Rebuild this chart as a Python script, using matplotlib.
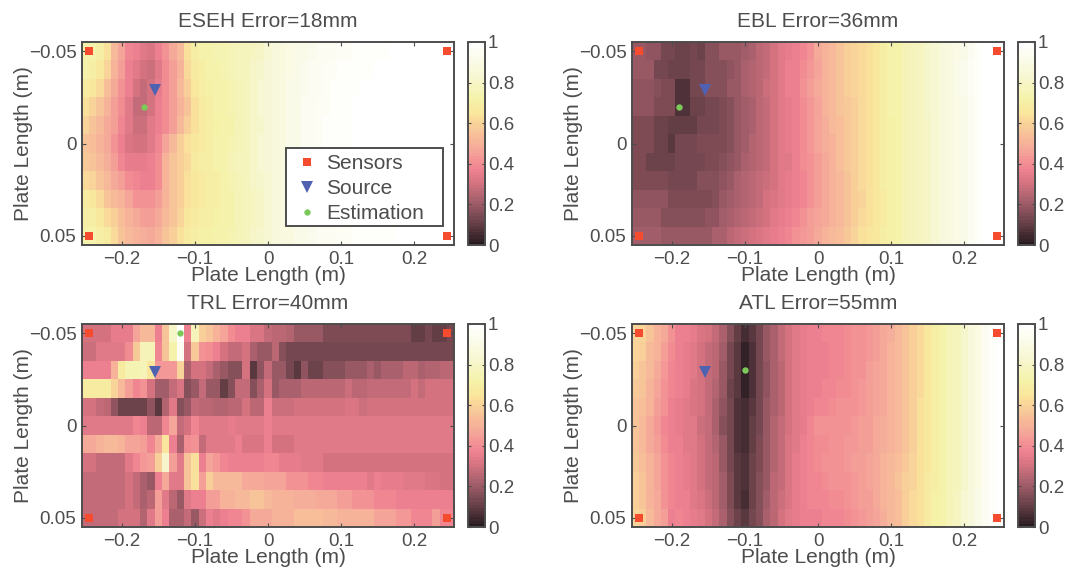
import numpy as np
import matplotlib
matplotlib.use('Agg')
import matplotlib.pyplot as plt
from matplotlib.colors import LinearSegmentedColormap
from matplotlib.patches import Rectangle

plt.rcParams['font.family'] = ['Liberation Sans', 'DejaVu Sans']
plt.rcParams['axes.unicode_minus'] = True

# grid of the error maps (cell centres), values below are read in percent
x_cells = [-0.25, -0.24, -0.23, -0.22, -0.21, -0.20, -0.19, -0.18, -0.17, -0.16,
           -0.15, -0.14, -0.13, -0.12, -0.11, -0.10, -0.09, -0.08, -0.07, -0.06,
           -0.05, -0.04, -0.03, -0.02, -0.01, 0.00, 0.01, 0.02, 0.03, 0.04,
           0.05, 0.06, 0.07, 0.08, 0.09, 0.10, 0.11, 0.12, 0.13, 0.14,
           0.15, 0.16, 0.17, 0.18, 0.19, 0.20, 0.21, 0.22, 0.23, 0.24, 0.25]
y_cells = [-0.05, -0.04, -0.03, -0.02, -0.01, 0.00, 0.01, 0.02, 0.03, 0.04, 0.05]

eseh = [
    [72, 72, 70, 64, 52, 46, 38, 36, 33, 32, 36, 42, 47, 52, 64, 70, 72, 73, 74, 74, 75, 77, 78, 79, 81, 84, 86, 88, 90, 91, 92, 93, 94, 95, 95, 96, 96, 97, 97, 98, 98, 98, 99, 99, 99, 99, 99, 99, 99, 99, 99],
    [72, 70, 66, 60, 50, 45, 36, 33, 30, 29, 33, 40, 45, 50, 62, 68, 70, 72, 73, 74, 75, 77, 78, 80, 82, 85, 87, 89, 90, 92, 93, 94, 95, 96, 96, 97, 97, 98, 98, 98, 99, 99, 99, 99, 100, 100, 100, 100, 100, 100, 100],
    [68, 66, 62, 54, 48, 42, 36, 30, 28, 30, 35, 40, 45, 52, 58, 66, 69, 71, 72, 73, 74, 76, 78, 81, 83, 85, 87, 89, 91, 92, 93, 94, 95, 96, 97, 97, 98, 98, 99, 99, 99, 99, 100, 100, 100, 100, 100, 100, 100, 100, 100],
    [64, 60, 56, 50, 45, 40, 34, 28, 28, 30, 36, 40, 44, 50, 56, 64, 68, 70, 72, 73, 74, 76, 78, 80, 83, 85, 87, 89, 91, 92, 94, 95, 96, 96, 97, 98, 98, 99, 99, 99, 100, 100, 100, 100, 100, 100, 100, 100, 100, 100, 100],
    [60, 56, 52, 48, 44, 38, 33, 29, 29, 33, 36, 40, 45, 52, 58, 64, 68, 70, 71, 72, 73, 75, 77, 80, 82, 85, 87, 89, 91, 92, 94, 95, 96, 97, 97, 98, 98, 99, 99, 99, 100, 100, 100, 100, 100, 100, 100, 100, 100, 100, 100],
    [56, 54, 50, 48, 42, 36, 32, 31, 31, 33, 38, 46, 52, 58, 64, 66, 68, 70, 72, 73, 74, 76, 78, 80, 83, 85, 87, 89, 91, 92, 94, 95, 96, 97, 97, 98, 98, 99, 99, 99, 99, 100, 100, 100, 100, 100, 100, 100, 100, 100, 100],
    [57, 55, 52, 49, 44, 38, 35, 35, 35, 36, 40, 50, 55, 58, 62, 68, 69, 70, 72, 73, 75, 77, 78, 80, 83, 85, 87, 89, 91, 92, 93, 94, 95, 96, 97, 97, 98, 98, 99, 99, 99, 99, 99, 99, 100, 100, 100, 100, 100, 100, 100],
    [62, 60, 56, 52, 48, 44, 40, 38, 36, 36, 40, 50, 55, 58, 64, 66, 68, 69, 70, 72, 74, 76, 78, 80, 82, 84, 86, 88, 90, 92, 93, 94, 95, 96, 96, 97, 97, 98, 98, 99, 99, 99, 99, 99, 99, 99, 100, 100, 100, 100, 100],
    [68, 66, 62, 56, 52, 50, 46, 42, 41, 41, 44, 50, 55, 58, 64, 67, 68, 69, 70, 72, 73, 75, 77, 79, 81, 84, 86, 88, 90, 91, 93, 94, 94, 95, 96, 96, 97, 97, 98, 98, 99, 99, 99, 99, 99, 99, 99, 99, 99, 100, 100],
    [70, 70, 66, 62, 58, 54, 50, 47, 45, 45, 47, 52, 56, 60, 66, 68, 69, 70, 71, 72, 73, 75, 77, 79, 81, 84, 86, 88, 89, 91, 92, 93, 94, 95, 95, 96, 96, 97, 97, 98, 98, 98, 99, 99, 99, 99, 99, 99, 99, 99, 99],
    [72, 72, 70, 68, 62, 56, 52, 50, 49, 48, 50, 55, 58, 64, 68, 70, 71, 71, 72, 73, 74, 76, 78, 80, 82, 84, 86, 88, 89, 91, 92, 93, 94, 94, 95, 96, 96, 97, 97, 97, 98, 98, 98, 99, 99, 99, 99, 99, 99, 99, 99],
]

ebl = [
    [20, 20, 18, 18, 14, 14, 11, 11, 14, 12, 17, 17, 19, 19, 20, 21, 23, 25, 27, 30, 33, 35, 37, 38, 42, 47, 50, 53, 55, 58, 60, 62, 64, 67, 70, 72, 73, 75, 77, 79, 82, 84, 86, 88, 90, 92, 95, 97, 99, 100, 100],
    [19, 19, 19, 13, 13, 11, 11, 11, 13, 13, 17, 16, 16, 18, 20, 22, 24, 26, 28, 31, 34, 36, 37, 40, 43, 46, 50, 53, 56, 58, 60, 62, 64, 67, 70, 72, 73, 75, 77, 79, 82, 84, 86, 88, 91, 93, 96, 98, 100, 100, 100],
    [18, 18, 18, 17, 15, 15, 7, 7, 13, 13, 17, 17, 17, 19, 20, 22, 24, 26, 29, 31, 34, 36, 37, 41, 44, 47, 50, 53, 55, 58, 60, 62, 64, 66, 70, 72, 73, 75, 77, 79, 82, 84, 86, 88, 91, 93, 96, 98, 100, 100, 100],
    [18, 18, 18, 15, 15, 15, 7, 7, 11, 11, 14, 14, 15, 17, 19, 21, 23, 26, 28, 31, 34, 35, 37, 40, 43, 46, 50, 52, 55, 57, 59, 62, 64, 66, 69, 72, 73, 75, 77, 79, 82, 84, 86, 88, 90, 92, 95, 97, 100, 100, 100],
    [15, 15, 15, 12, 12, 10, 10, 10, 10, 14, 14, 14, 15, 17, 19, 21, 23, 26, 27, 30, 33, 35, 37, 40, 43, 46, 49, 52, 54, 57, 59, 62, 64, 66, 69, 71, 73, 75, 77, 79, 81, 84, 86, 88, 90, 92, 94, 97, 99, 100, 100],
    [15, 15, 15, 12, 12, 9, 13, 13, 13, 15, 15, 15, 15, 17, 19, 21, 24, 26, 27, 30, 33, 35, 37, 40, 43, 46, 49, 51, 54, 57, 59, 62, 64, 66, 69, 71, 73, 75, 77, 79, 81, 84, 86, 88, 90, 92, 94, 97, 99, 100, 100],
    [15, 15, 11, 11, 11, 11, 14, 14, 14, 14, 15, 15, 16, 18, 20, 22, 24, 26, 28, 30, 33, 34, 36, 40, 42, 45, 48, 51, 54, 57, 59, 62, 64, 66, 69, 71, 73, 75, 77, 79, 81, 84, 86, 88, 90, 92, 94, 97, 99, 100, 100],
    [15, 15, 15, 15, 15, 14, 14, 14, 14, 16, 16, 16, 18, 20, 22, 24, 26, 27, 29, 31, 33, 35, 36, 39, 42, 45, 48, 50, 53, 56, 58, 61, 63, 66, 69, 71, 73, 75, 77, 79, 81, 84, 86, 88, 90, 92, 94, 97, 99, 100, 100],
    [18, 18, 18, 18, 18, 15, 15, 15, 15, 15, 15, 17, 19, 21, 22, 24, 26, 28, 30, 32, 34, 35, 37, 39, 42, 45, 47, 50, 52, 55, 58, 60, 63, 66, 68, 71, 73, 75, 77, 79, 81, 83, 86, 88, 90, 92, 94, 97, 99, 100, 100],
    [19, 19, 19, 19, 17, 17, 17, 17, 17, 17, 18, 18, 21, 22, 24, 26, 28, 29, 31, 33, 35, 36, 38, 41, 44, 46, 48, 51, 53, 55, 58, 61, 63, 66, 68, 71, 73, 75, 77, 79, 81, 83, 86, 88, 90, 92, 94, 97, 99, 100, 100],
    [21, 21, 21, 21, 20, 20, 20, 20, 20, 20, 20, 22, 23, 25, 27, 29, 31, 32, 34, 35, 37, 39, 41, 43, 45, 47, 50, 52, 54, 57, 60, 63, 65, 67, 69, 71, 73, 75, 77, 79, 81, 84, 86, 88, 90, 92, 94, 97, 99, 100, 100],
]

trl = [
    [31, 31, 31, 31, 35, 35, 35, 46, 52, 52, 37, 55, 80, 100, 37, 76, 58, 56, 50, 46, 40, 37, 37, 32, 32, 28, 25, 25, 24, 19, 19, 19, 19, 15, 15, 15, 15, 15, 15, 15, 15, 15, 15, 15, 15, 10, 10, 14, 10, 10, 14],
    [29, 29, 33, 33, 33, 33, 40, 57, 75, 75, 38, 55, 72, 95, 30, 57, 42, 40, 36, 30, 28, 28, 30, 22, 20, 20, 25, 16, 13, 13, 13, 13, 13, 13, 13, 13, 13, 13, 13, 13, 13, 13, 13, 13, 13, 13, 13, 13, 13, 13, 13],
    [36, 36, 36, 36, 50, 68, 74, 74, 75, 65, 43, 43, 43, 60, 22, 31, 31, 27, 22, 19, 17, 17, 30, 8, 18, 28, 20, 20, 13, 8, 18, 12, 12, 16, 16, 16, 20, 20, 20, 23, 19, 22, 22, 22, 25, 25, 22, 24, 24, 26, 26],
    [68, 68, 68, 68, 60, 53, 44, 38, 42, 31, 21, 21, 27, 32, 17, 20, 27, 19, 19, 10, 17, 28, 28, 17, 22, 30, 19, 22, 22, 22, 25, 25, 25, 26, 26, 26, 29, 26, 26, 28, 28, 28, 28, 28, 28, 30, 28, 30, 30, 30, 30],
    [31, 31, 28, 25, 18, 12, 12, 12, 12, 18, 8, 24, 33, 17, 20, 27, 25, 25, 24, 24, 26, 26, 31, 26, 26, 36, 29, 29, 29, 30, 30, 30, 31, 30, 30, 30, 32, 32, 29, 31, 31, 31, 31, 31, 31, 31, 31, 31, 31, 31, 31],
    [33, 33, 33, 33, 33, 33, 33, 39, 36, 25, 25, 39, 46, 27, 31, 38, 33, 33, 33, 33, 35, 33, 33, 33, 33, 37, 33, 33, 33, 33, 33, 33, 33, 33, 33, 33, 33, 33, 33, 33, 33, 33, 33, 33, 33, 33, 33, 33, 33, 33, 33],
    [47, 47, 50, 52, 52, 50, 46, 46, 44, 38, 47, 65, 37, 23, 40, 42, 28, 34, 33, 33, 33, 37, 32, 32, 32, 37, 30, 30, 30, 33, 33, 33, 33, 33, 33, 33, 33, 33, 33, 33, 33, 33, 33, 33, 33, 33, 33, 33, 33, 33, 33],
    [30, 30, 27, 27, 27, 27, 33, 38, 43, 44, 58, 82, 45, 34, 55, 63, 37, 46, 43, 39, 37, 37, 37, 37, 37, 38, 38, 35, 35, 35, 34, 34, 34, 31, 31, 31, 31, 31, 31, 31, 31, 31, 31, 31, 31, 31, 31, 31, 31, 31, 31],
    [27, 27, 27, 27, 27, 27, 30, 27, 22, 19, 36, 48, 33, 33, 55, 63, 45, 58, 52, 52, 52, 52, 47, 47, 47, 46, 46, 46, 42, 42, 42, 39, 39, 37, 37, 37, 37, 37, 37, 34, 37, 35, 35, 35, 34, 34, 34, 32, 32, 30, 30],
    [28, 28, 28, 28, 28, 28, 30, 28, 23, 25, 44, 34, 25, 20, 34, 37, 37, 44, 44, 50, 50, 53, 53, 55, 55, 53, 50, 50, 50, 49, 49, 49, 47, 47, 47, 44, 44, 42, 42, 42, 38, 38, 38, 36, 36, 37, 37, 37, 37, 37, 37],
    [28, 28, 28, 28, 28, 30, 30, 30, 24, 33, 44, 37, 22, 22, 28, 20, 29, 37, 33, 37, 38, 38, 42, 47, 47, 47, 50, 50, 50, 54, 54, 54, 54, 53, 53, 50, 50, 50, 50, 50, 46, 46, 46, 43, 43, 38, 38, 38, 45, 38, 38],
]

atl = [
    [60, 60, 55, 50, 47, 42, 37, 36, 35, 32, 30, 27, 22, 16, 10, 6, 8, 14, 19, 23, 27, 31, 33, 35, 37, 37, 38, 38, 39, 40, 41, 42, 43, 45, 47, 49, 52, 55, 58, 62, 66, 70, 72, 75, 78, 82, 86, 90, 94, 98, 99],
    [60, 58, 53, 50, 45, 40, 36, 35, 34, 31, 28, 25, 21, 14, 8, 2, 7, 13, 19, 23, 27, 31, 33, 35, 36, 37, 37, 38, 39, 40, 41, 42, 43, 45, 48, 50, 52, 55, 59, 62, 66, 70, 72, 75, 78, 82, 86, 90, 94, 98, 100],
    [59, 56, 52, 48, 43, 39, 36, 35, 33, 30, 27, 25, 20, 14, 8, 2, 7, 13, 18, 23, 26, 30, 33, 35, 36, 37, 37, 38, 39, 40, 41, 42, 44, 46, 48, 50, 52, 55, 59, 62, 66, 70, 72, 75, 78, 82, 86, 90, 94, 98, 100],
    [57, 55, 50, 46, 42, 38, 36, 35, 32, 30, 27, 24, 19, 12, 8, 2, 7, 13, 18, 22, 26, 30, 33, 35, 36, 37, 38, 39, 40, 40, 41, 43, 44, 46, 48, 50, 52, 56, 59, 62, 66, 70, 72, 75, 78, 82, 86, 90, 94, 98, 100],
    [56, 54, 50, 45, 41, 37, 35, 34, 32, 30, 27, 23, 18, 13, 7, 5, 8, 14, 19, 23, 26, 30, 33, 35, 37, 38, 39, 40, 41, 41, 42, 43, 44, 46, 48, 50, 53, 56, 59, 63, 67, 70, 72, 75, 78, 82, 86, 90, 94, 98, 100],
    [55, 53, 48, 43, 38, 37, 35, 34, 33, 29, 27, 22, 17, 13, 7, 5, 10, 14, 20, 24, 27, 31, 33, 35, 38, 41, 41, 41, 41, 42, 43, 44, 45, 47, 49, 51, 53, 56, 59, 63, 67, 70, 72, 75, 78, 82, 86, 90, 94, 98, 100],
    [56, 53, 48, 45, 40, 37, 36, 34, 33, 30, 27, 24, 19, 13, 7, 5, 10, 15, 20, 24, 28, 32, 34, 36, 38, 40, 40, 41, 42, 43, 43, 44, 45, 47, 49, 51, 53, 56, 59, 63, 67, 70, 72, 75, 78, 82, 86, 90, 94, 98, 100],
    [57, 54, 50, 46, 41, 38, 36, 35, 33, 31, 28, 25, 19, 14, 9, 7, 11, 15, 20, 24, 28, 32, 35, 37, 38, 40, 41, 42, 42, 43, 44, 45, 46, 48, 50, 52, 54, 57, 60, 63, 67, 70, 72, 75, 78, 82, 86, 90, 94, 98, 100],
    [58, 55, 50, 46, 41, 38, 36, 35, 33, 31, 28, 25, 21, 15, 9, 7, 12, 16, 20, 25, 28, 32, 35, 37, 38, 39, 40, 41, 41, 42, 43, 45, 46, 48, 50, 52, 55, 58, 60, 64, 68, 70, 72, 75, 78, 82, 86, 90, 94, 98, 100],
    [59, 56, 50, 47, 42, 38, 37, 36, 34, 32, 29, 26, 21, 15, 9, 6, 12, 17, 21, 25, 29, 32, 35, 37, 38, 38, 39, 40, 40, 42, 43, 44, 45, 47, 50, 52, 54, 58, 61, 64, 68, 71, 73, 76, 79, 83, 87, 91, 95, 98, 99],
    [60, 58, 52, 48, 44, 37, 38, 36, 35, 33, 30, 28, 22, 16, 11, 9, 13, 17, 22, 26, 30, 33, 35, 37, 37, 37, 38, 38, 39, 40, 42, 43, 44, 46, 49, 52, 54, 58, 61, 64, 68, 71, 73, 76, 79, 83, 87, 91, 95, 98, 99],
]

titles = ['ESEH Error=18mm', 'EBL Error=36mm', 'TRL Error=40mm', 'ATL Error=55mm']
maps = [eseh, ebl, trl, atl]

sensors_x = [-0.245, 0.245, -0.245, 0.245]
sensors_y = [-0.05, -0.05, 0.05, 0.05]
source_x = [-0.154]
source_y = [-0.029]
estimates_x = [-0.17, -0.19, -0.12, -0.10]
estimates_y = [-0.02, -0.02, -0.05, -0.03]

x_ticks = [-0.2, -0.1, 0, 0.1, 0.2]
x_ticklabels = ['\u22120.2', '\u22120.1', '0', '0.1', '0.2']
y_ticks = [-0.05, 0, 0.05]
y_ticklabels = ['\u22120.05', '0', '0.05']
cbar_ticks = [0, 0.2, 0.4, 0.6, 0.8, 1]
cbar_ticklabels = ['0', '0.2', '0.4', '0.6', '0.8', '1']

GRAY = '#4d4d4d'
W, H = 1065, 573

cmap = LinearSegmentedColormap.from_list('err', [
    (0.00, (0.16, 0.11, 0.13)),
    (0.10, (0.40, 0.25, 0.28)),
    (0.20, (0.62, 0.36, 0.41)),
    (0.30, (0.83, 0.45, 0.50)),
    (0.37, (0.94, 0.51, 0.57)),
    (0.45, (0.96, 0.63, 0.60)),
    (0.55, (0.97, 0.76, 0.60)),
    (0.65, (0.98, 0.90, 0.61)),
    (0.72, (0.96, 0.95, 0.66)),
    (0.85, (0.97, 0.97, 0.84)),
    (1.00, (1.00, 1.00, 1.00)),
], N=64)

# pixel boxes of the panels: left, top, right, bottom
boxes = [(82, 42, 454, 245), (632, 42, 1004, 245),
         (82, 324, 454, 527), (632, 324, 1004, 527)]


def to_axes(box):
    l, t, r, b = box
    return [l / W, 1 - b / H, (r - l) / W, (b - t) / H]


fig = plt.figure(figsize=(W / 100, H / 100), dpi=100)

for i, box in enumerate(boxes):
    ax = fig.add_axes(to_axes(box))
    data = np.array(maps[i]) / 100
    mesh = ax.imshow(data, cmap=cmap, vmin=0, vmax=1, aspect='auto',
                     interpolation='nearest',
                     extent=(x_cells[0] - 0.005, x_cells[-1] + 0.005,
                             y_cells[-1] + 0.005, y_cells[0] - 0.005))
    h1, = ax.plot(sensors_x, sensors_y, 's', color='#f54b2e', ms=6.3, mew=0)
    h2, = ax.plot(source_x, source_y, 'v', color='#4f62b2', ms=8.5, mew=0)
    h3, = ax.plot(estimates_x[i], estimates_y[i], 'o', color='#7cc95a', ms=4.6, mew=0)
    ax.set_xlim(-0.2545, 0.2545)
    ax.set_ylim(0.055, -0.055)
    ax.set_xticks(x_ticks, x_ticklabels)
    ax.set_yticks(y_ticks, y_ticklabels)
    ax.tick_params(direction='in', top=True, right=True, length=3, width=0.8,
                   color=GRAY, labelcolor=GRAY, labelsize=13.5, pad=4)
    for s in ax.spines.values():
        s.set_color(GRAY)
        s.set_linewidth(1.4)
    ax.set_title(titles[i], fontsize=15, color=GRAY, pad=11)
    ax.set_xlabel('Plate Length (m)', fontsize=15, color=GRAY, labelpad=-1)
    ax.set_ylabel('Plate Length (m)', fontsize=15, color=GRAY, labelpad=-3)
    if i == 0:
        # frame drawn apart so it can be wider than the legend text needs
        ax.add_patch(Rectangle(((286 - 82) / 372, (245 - 226) / 203), 157 / 372, 78 / 203,
                               transform=ax.transAxes, facecolor='white',
                               edgecolor=GRAY, linewidth=1.4, zorder=4))
        leg = ax.legend([h1, h2, h3], ['Sensors', 'Source', 'Estimation'],
                        loc='upper left', bbox_to_anchor=(0.577, 0.448),
                        fontsize=15, frameon=False, labelcolor=GRAY, borderpad=0,
                        labelspacing=0.29, handlelength=1, handletextpad=0.41,
                        borderaxespad=0)
        leg.set_zorder(5)

    l, t, r, b = box
    cax = fig.add_axes(to_axes((r + 14, t, r + 31, b)))
    cb = fig.colorbar(mesh, cax=cax)
    cb.set_ticks(cbar_ticks, labels=cbar_ticklabels)
    cax.tick_params(direction='in', left=True, right=True, length=2, width=0.8,
                    color=GRAY, labelcolor=GRAY, labelsize=13.5, pad=2)
    cb.outline.set_edgecolor(GRAY)
    cb.outline.set_linewidth(1.4)

fig.savefig('out.png', dpi=100)
